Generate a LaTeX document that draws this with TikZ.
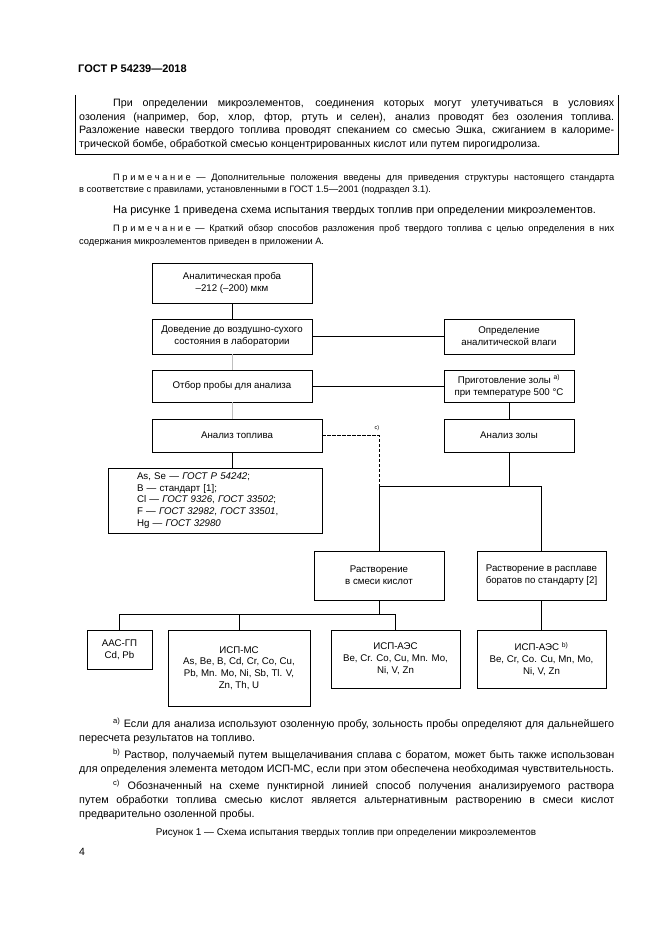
\documentclass[tikz,border=0pt]{standalone}
\usepackage{fontspec}
\setmainfont{Liberation Sans}
\tikzset{
  fbox/.style={draw, line width=0.7pt, inner sep=0pt, align=center, font=\fontsize{9.7}{11.8}\selectfont},
  conn/.style={line width=0.7pt},
  faint/.style={line width=0.5pt, black!25},
  dashconn/.style={line width=0.7pt, dash pattern=on 3.5pt off 1.5pt},
  para/.style={anchor=base west, inner sep=0pt, font=\fontsize{10.7}{13}\selectfont},
  notetxt/.style={anchor=base west, inner sep=0pt, font=\fontsize{9.3}{11}\selectfont},
  foot/.style={anchor=base west, inner sep=0pt, font=\fontsize{10.8}{12}\selectfont},
}
\newcommand{\jl}[2]{\makebox[#1][s]{#2}}
\newcommand{\prim}{П\kern2.6pt р\kern2.6pt и\kern2.6pt м\kern2.6pt е\kern2.6pt ч\kern2.6pt а\kern2.6pt н\kern2.6pt и\kern2.6pt е}
\begin{document}
\begin{tikzpicture}[x=1pt,y=-1pt]
\fill[white] (0,0) rectangle (661,936);
\useasboundingbox (0,0) rectangle (661,936);

% header
\node[anchor=base west, inner sep=0pt, font=\bfseries\fontsize{11}{13}\selectfont] (hdr) at (78,73) {ГОСТ Р 54239—2018};

% framed paragraph
\coordinate (fa) at (75,95);
\coordinate (fb) at (75,154);
\coordinate (fc) at (618,154);
\coordinate (fd) at (618,95);
\draw[line width=0.8pt] (fa) -- (fb) -- (fc) -- (fd);
\node[para] (p1) at (113,107) {\jl{501pt}{При определении микроэлементов, соединения которых могут улетучиваться в условиях}};
\node[para] (p2) at (79,120.5) {\jl{535pt}{озоления (например, бор, хлор, фтор, ртуть и селен), анализ проводят без озоления топлива.}};
\node[para] (p3) at (79,134) {\jl{535pt}{Разложение навески твердого топлива проводят спеканием со смесью Эшка, сжиганием в калориме-}};
\node[para] (p4) at (79,147.5) {трической бомбе, обработкой смесью концентрированных кислот или путем пирогидролиза.};

% notes
\node[notetxt] (n1) at (113,180) {\jl{501pt}{\prim{} — Дополнительные положения введены для приведения структуры настоящего стандарта}};
\node[notetxt] (n2) at (79,193) {в соответствие с правилами, установленными в ГОСТ 1.5—2001 (подраздел 3.1).};
\node[para, font=\fontsize{11}{13}\selectfont] (b0) at (113,213) {На рисунке 1 приведена схема испытания твердых топлив при определении микроэлементов.};
\node[notetxt] (n3) at (113,231) {\jl{501pt}{\prim{} — Краткий обзор способов разложения проб твердого топлива с целью определения в них}};
\node[notetxt] (n4) at (79,244) {содержания микроэлементов приведен в приложении А.};

% diagram boxes
\node[fbox, minimum width=160, minimum height=40] (b1) at (232,283) {Аналитическая проба\\–212 (–200) мкм};
\node[fbox, minimum width=160, minimum height=35] (b2) at (232,336.5) {Доведение до воздушно-сухого\\состояния в лаборатории};
\node[fbox, minimum width=160, minimum height=32] (b3) at (232,386) {Отбор пробы для анализа};
\node[fbox, minimum width=130, minimum height=35] (opr) at (509,336.5) {Определение\\аналитической влаги};
\node[fbox, minimum width=130, minimum height=32] (prig) at (509,386) {Приготовление золы \textsuperscript{а)}\\при температуре 500 °C};
\node[fbox, minimum width=170, minimum height=33] (atop) at (237,435.5) {Анализ топлива};
\node[fbox, minimum width=130, minimum height=33] (azol) at (509,435.5) {Анализ золы};
\node[fbox, align=left, text width=156pt, minimum width=214, minimum height=65] (list) at (215,500.5) {As, Se — \textit{ГОСТ Р 54242};\\B — стандарт [1];\\Cl — \textit{ГОСТ 9326}, \textit{ГОСТ 33502};\\F — \textit{ГОСТ 32982}, \textit{ГОСТ 33501},\\Hg — \textit{ГОСТ 32980}};
\node[fbox, minimum width=130, minimum height=49] (smesi) at (379,575.5) {Растворение\\в смеси кислот};
\node[fbox, minimum width=129, minimum height=49] (rasp) at (541.5,575.5) {Растворение в расплаве\\боратов по стандарту [2]};
\node[fbox, minimum width=65, minimum height=39] (aac) at (119.5,649.5) {ААС-ГП\\Cd, Pb};
\node[fbox, minimum width=142, minimum height=76] (ms) at (239,668) {ИСП-МС\\As, Be, B, Cd, Cr, Co, Cu,\\Pb, Mn. Mo, Ni, Sb, Tl. V,\\Zn, Th, U};
\node[fbox, minimum width=129, minimum height=58] (aes) at (395.5,659) {ИСП-АЭС\\Be, Cr. Co, Cu, Mn. Mo,\\Ni, V, Zn};
\node[fbox, minimum width=129, minimum height=58] (aesb) at (541.5,659) {ИСП-АЭС \textsuperscript{b)}\\Be, Cr, Co. Cu, Mn, Mo,\\Ni, V, Zn};

% connectors
\draw[conn] (b1.south) -- (b2.north);
\draw[conn] (b2.east) -- (opr.west);
\draw[faint] (b2.south) -- (b3.north);
\draw[conn] (b3.east) -- (prig.west);
\draw[faint] (b3.south) -- (b3.south |- atop.north);
\draw[conn] (prig.south) -- (azol.north);
\draw[conn] (b3.south |- atop.south) -- (b3.south |- list.north);
\coordinate (dc) at (379,435.5);
\coordinate (jn) at (379,486);
\draw[dashconn] (atop.east) -- (dc) -- (jn);
\node[inner sep=0pt, font=\fontsize{5.5}{6}\selectfont] (lc) at (377,428) {c)};
\draw[conn] (azol.south) -- (azol.south |- jn);
\draw[conn] (jn) -| (rasp.north);
\draw[conn] (jn) -- (smesi.north);
\coordinate (hl) at (119.5,614);
\draw[conn] (smesi.south) -- (smesi.south |- hl);
\draw[conn] (aac.north) |- (aes.north |- hl) -- (aes.north);
\draw[conn] (ms.north) -- (ms.north |- hl);
\draw[conn] (rasp.south) -- (aesb.north);

% footnotes
\node[foot] (f1) at (113,727.5) {\jl{501pt}{\textsuperscript{a)} Если для анализа используют озоленную пробу, зольность пробы определяют для дальнейшего}};
\node[foot] (f2) at (79,741.5) {пересчета результатов на топливо.};
\node[foot] (f3) at (113,758.5) {\jl{501pt}{\textsuperscript{b)} Раствор, получаемый путем выщелачивания сплава с боратом, может быть также использован}};
\node[foot] (f4) at (79,772.5) {\jl{535pt}{для определения элемента методом ИСП-МС, если при этом обеспечена необходимая чувствительность.}};
\node[foot] (f5) at (113,789.5) {\jl{501pt}{\textsuperscript{c)} Обозначенный на схеме пунктирной линией способ получения анализируемого раствора}};
\node[foot] (f6) at (79,803.5) {\jl{535pt}{путем обработки топлива смесью кислот является альтернативным растворению в смеси кислот}};
\node[foot] (f7) at (79,817.5) {предварительно озоленной пробы.};
\node[anchor=base, inner sep=0pt, font=\fontsize{9.9}{11}\selectfont] (cap) at (346,835) {Рисунок 1 — Схема испытания твердых топлив при определении микроэлементов};
\node[anchor=base west, inner sep=0pt, font=\fontsize{10.5}{12}\selectfont] (pg) at (79,855) {4};
\end{tikzpicture}
\end{document}
